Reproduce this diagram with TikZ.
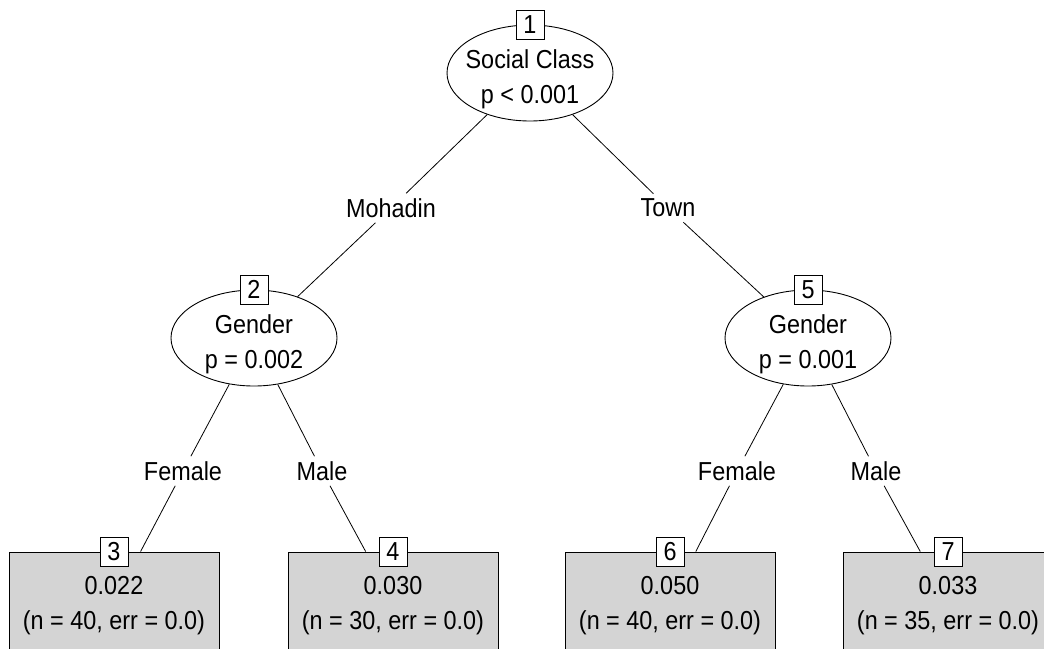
\documentclass[tikz,border=0pt]{standalone}
\usepackage{fontspec}
\setmainfont[FakeStretch=0.9]{Liberation Sans}
\usetikzlibrary{shapes.geometric}
\tikzset{
	split/.style={ellipse, draw, line width=0.9pt, minimum width=166pt, minimum height=96pt, inner xsep=-8pt, inner ysep=-3pt, align=center, text height=67pt},
	leaf/.style={rectangle, draw, fill=black!17, line width=0.9pt, minimum width=210pt, minimum height=100pt, align=center, text height=61pt},
	numbox/.style={rectangle, draw, fill=white, line width=0.9pt, minimum width=28pt, minimum height=29pt, inner sep=0pt},
	edgelab/.style={inner sep=5pt},
	branch/.style={line width=0.8pt}
}

\begin{document}
\begin{tikzpicture}[x=1pt, y=-1pt, font=\fontsize{26}{35}\selectfont]
		%%%%% START %%%%%
		\clip (0, 0) rectangle (1044, 648);
		
		% inner nodes
		\node[split] (n1) at (530, 73) {Social Class\\p < 0.001};
		\node[split] (n2) at (254, 338) {Gender\\p = 0.002};
		\node[split] (n5) at (808, 338) {Gender\\p = 0.001};
		
		% terminal nodes
		\node[leaf] (n3) at (114, 602) {0.022\\(n = 40, err = 0.0)};
		\node[leaf] (n4) at (393, 602) {0.030\\(n = 30, err = 0.0)};
		\node[leaf] (n6) at (670, 602) {0.050\\(n = 40, err = 0.0)};
		\node[leaf] (n7) at (948, 602) {0.033\\(n = 35, err = 0.0)};
		
		% branch labels
		\node[edgelab] (mohadin) at (391, 208) {Mohadin};
		\node[edgelab] (town) at (668, 208) {Town};
		\node[edgelab] (femaleA) at (183, 471) {Female};
		\node[edgelab] (maleA) at (322, 471) {Male};
		\node[edgelab] (femaleB) at (737, 471) {Female};
		\node[edgelab] (maleB) at (876, 471) {Male};
		
		\draw[branch] (n1) -- (mohadin) -- (n2);
		\draw[branch] (n1) -- (town) -- (n5);
		\draw[branch] (n2) -- (femaleA) -- (n3);
		\draw[branch] (n2) -- (maleA) -- (n4);
		\draw[branch] (n5) -- (femaleB) -- (n6);
		\draw[branch] (n5) -- (maleB) -- (n7);
		
		% node ids
		\node[numbox] (id1) at (n1.north) {1};
		\node[numbox] (id2) at (n2.north) {2};
		\node[numbox] (id3) at (n3.north) {3};
		\node[numbox] (id4) at (n4.north) {4};
		\node[numbox] (id5) at (n5.north) {5};
		\node[numbox] (id6) at (n6.north) {6};
		\node[numbox] (id7) at (n7.north) {7};
		
		%%%%% END %%%%%
	\end{tikzpicture}
\end{document}
